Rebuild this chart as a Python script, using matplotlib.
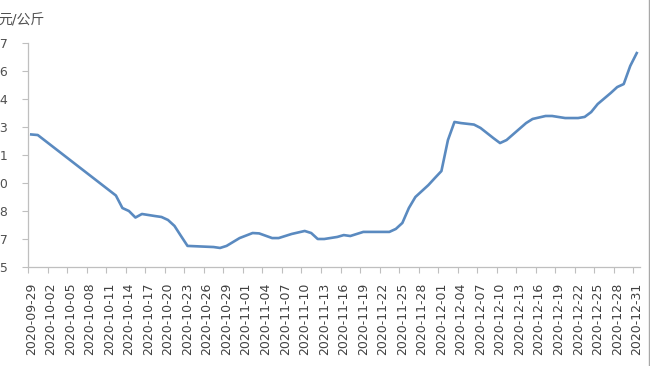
import matplotlib
matplotlib.use("Agg")
import matplotlib.pyplot as plt
from matplotlib.lines import Line2D
import numpy as np
import pandas as pd

plt.rcParams['font.family'] = ['DejaVu Sans', 'Noto Sans CJK SC']

# price readings (元/公斤) at the dates where the curve bends
dates = ['2020-09-29', '2020-09-30', '2020-10-12', '2020-10-13', '2020-10-14',
         '2020-10-15', '2020-10-16', '2020-10-18', '2020-10-19', '2020-10-20',
         '2020-10-21', '2020-10-22', '2020-10-23', '2020-10-27', '2020-10-28',
         '2020-10-29', '2020-10-30', '2020-10-31', '2020-11-02', '2020-11-03',
         '2020-11-05', '2020-11-06', '2020-11-08', '2020-11-10', '2020-11-11',
         '2020-11-12', '2020-11-13', '2020-11-15', '2020-11-16', '2020-11-17',
         '2020-11-19', '2020-11-23', '2020-11-24', '2020-11-25', '2020-11-26',
         '2020-11-27', '2020-11-28', '2020-11-29', '2020-11-30', '2020-12-01',
         '2020-12-02', '2020-12-03', '2020-12-04', '2020-12-06', '2020-12-07',
         '2020-12-09', '2020-12-10', '2020-12-11', '2020-12-14', '2020-12-15',
         '2020-12-17', '2020-12-18', '2020-12-20', '2020-12-22', '2020-12-23',
         '2020-12-24', '2020-12-25', '2020-12-27', '2020-12-28', '2020-12-29',
         '2020-12-30', '2020-12-31']
prices = [4.21, 4.207, 3.883, 3.816, 3.80,
          3.765, 3.784, 3.773, 3.768, 3.752,
          3.72, 3.666, 3.613, 3.607, 3.602,
          3.613, 3.634, 3.655, 3.682, 3.68,
          3.655, 3.655, 3.677, 3.693, 3.682,
          3.65, 3.65, 3.661, 3.671, 3.666,
          3.688, 3.688, 3.704, 3.736, 3.816,
          3.875, 3.907, 3.939, 3.977, 4.014,
          4.18, 4.277, 4.271, 4.263, 4.245,
          4.19, 4.164, 4.18, 4.271, 4.293,
          4.309, 4.309, 4.298, 4.298, 4.304,
          4.33, 4.373, 4.432, 4.464, 4.48,
          4.577, 4.646]

y_ticks = [3.5, 3.65, 3.8, 3.95, 4.1, 4.25, 4.4, 4.55, 4.7]
y_labels = ['3.5', '3.7', '3.8', '4.0', '4.1', '4.3', '4.4', '4.6', '4.7']
label_dates = pd.date_range('2020-09-29', '2020-12-31', freq='3D')

dates = pd.to_datetime(dates)

fig = plt.figure(figsize=(6.5, 3.66), dpi=100)
ax = fig.add_axes([28 / 650, 1 - 267 / 366, 612 / 650, 224 / 366])

ax.plot(dates, prices, color='#5A8AC0', linewidth=1.9, solid_joinstyle='round')

half = pd.Timedelta(hours=12)
ax.set_xlim(dates[0] - half, dates[-1] + half)
ax.set_ylim(3.5, 4.7)

ax.set_yticks(y_ticks)
ax.set_yticklabels(y_labels)

# labels sit on the day, tick marks sit between the days
ax.set_xticks(label_dates)
ax.set_xticklabels([d.strftime('%Y-%m-%d') for d in label_dates], rotation=90)
ax.set_xticks(label_dates - half, minor=True)
ax.tick_params(axis='x', which='major', length=0, pad=11, labelsize=9, colors='#404040')
ax.tick_params(axis='x', which='minor', length=4, color='#BFBFBF', width=0.8)
ax.tick_params(axis='y', length=4, color='#BFBFBF', width=0.8, pad=10.5,
               labelsize=9, labelcolor='#505050')

for side in ['top', 'right']:
    ax.spines[side].set_visible(False)
for side in ['left', 'bottom']:
    ax.spines[side].set_color('#BFBFBF')
    ax.spines[side].set_linewidth(0.9)

fig.text(-0.003, 1 - 20 / 366, '元/公斤', fontsize=10, color='#505050',
         ha='left', va='center')

# frame line at the right edge of the screenshot
fig.add_artist(Line2D([648.5 / 650, 648.5 / 650], [0, 1], color='#A8A8A8',
                      linewidth=1.0, transform=fig.transFigure))

fig.savefig('out.png', dpi=100)
